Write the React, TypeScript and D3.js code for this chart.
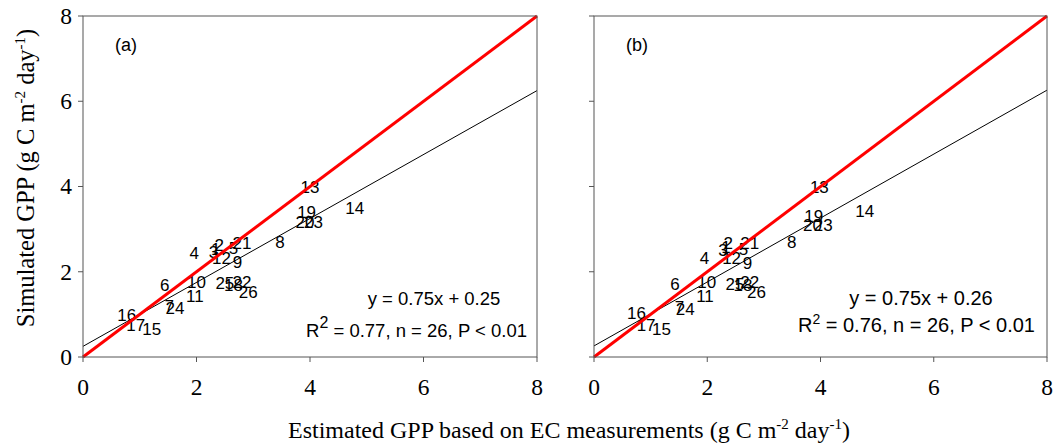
import React from "react";
import * as d3 from "d3";

const labels = ["1","2","3","4","5","6","7","8","9","10","11","12","13","14","15","16","17","18","19","20","21","22","23","24","25","26"];
const aX = [2.34,2.40,2.30,1.96,2.65,1.44,1.52,3.47,2.72,2.00,1.97,2.44,4.00,4.79,1.21,0.77,0.93,2.65,3.94,3.91,2.80,2.80,4.06,1.62,2.50,2.91];
const aY = [2.53,2.63,2.47,2.45,2.55,1.69,1.20,2.71,2.24,1.77,1.43,2.32,4.00,3.50,0.67,0.99,0.75,1.70,3.40,3.16,2.67,1.76,3.16,1.16,1.74,1.53];
const bX = [2.33,2.37,2.28,1.95,2.64,1.43,1.51,3.49,2.71,1.99,1.96,2.43,3.98,4.78,1.19,0.75,0.92,2.63,3.88,3.86,2.75,2.75,4.05,1.61,2.49,2.87];
const bY = [2.58,2.67,2.51,2.33,2.54,1.71,1.17,2.71,2.20,1.77,1.43,2.33,4.00,3.43,0.67,1.03,0.75,1.69,3.32,3.11,2.68,1.77,3.11,1.14,1.71,1.53];
const slopes = [0.75, 0.75];
const intercepts = [0.25, 0.26];
const r2 = ["0.77", "0.76"];
const panelNames = ["(a)", "(b)"];
const ticks = [0, 2, 4, 6, 8];

const AX = "#555";

function Panel({ left, right, xs, ys, idx }: any) {
  const x = d3.scaleLinear().domain([0, 8]).range([left, right]);
  const y = d3.scaleLinear().domain([0, 8]).range([357, 16]);
  const line = d3.line<number>().x((d) => x(d)).y((d) => y(d));
  const reg = d3.line<number>().x((d) => x(d)).y((d) => y(slopes[idx] * d + intercepts[idx]));
  const sans = "Arial, 'Liberation Sans', sans-serif";
  const serif = "'Times New Roman', 'Liberation Serif', serif";
  const eqSize = idx === 0 ? 18.5 : 20;
  return (
    <g>
      {labels.map((l, i) => (
        <text key={l} x={x(xs[i])} y={y(ys[i])} dy="0.36em" textAnchor="middle" fontFamily={sans} fontSize={17} fill="#000">{l}</text>
      ))}
      <path d={reg([0, 8]) as string} stroke="#000" strokeWidth={1} fill="none" />
      <path d={line([0, 8]) as string} stroke="#ff0000" strokeWidth={3} fill="none" />
      <rect x={x(0)} y={y(8)} width={x(8) - x(0)} height={y(0) - y(8)} fill="none" stroke={AX} strokeWidth={1} />
      {ticks.map((t) => (
        <g key={"x" + t}>
          <line x1={x(t)} x2={x(t)} y1={y(0)} y2={y(0) + 5} stroke={AX} />
          <text x={x(t)} y={395} textAnchor="middle" fontFamily={serif} fontSize={23.5}>{t}</text>
          <line x1={x(0) - 5} x2={x(0)} y1={y(t)} y2={y(t)} stroke={AX} />
          {idx === 0 && (
            <text x={72} y={y(t)} dy="0.34em" textAnchor="end" fontFamily={serif} fontSize={23.5}>{t}</text>
          )}
        </g>
      ))}
      <text x={x(0) + 32} y={51} fontFamily={sans} fontSize={18}>{panelNames[idx]}</text>
      <text x={x(8) - (idx === 0 ? 103 : 126)} y={305} textAnchor="middle" fontFamily={sans} fontSize={eqSize}>
        {`y = ${slopes[idx].toFixed(2)}x + ${intercepts[idx].toFixed(2)}`}
      </text>
      <text x={x(8) - (idx === 0 ? 10 : 12)} y={idx === 0 ? 337 : 332} textAnchor="end" fontFamily={sans} fontSize={eqSize}>
        R<tspan dy={idx === 0 ? -9 : -8} fontSize={idx === 0 ? 16 : 14}>2</tspan>
        <tspan dy={idx === 0 ? 9 : 8}>{` = ${r2[idx]}, n = 26, P < 0.01`}</tspan>
      </text>
    </g>
  );
}

export default function App() {
  const serif = "'Times New Roman', 'Liberation Serif', serif";
  return (
    <svg width={1056} height={447} style={{ position: "absolute", left: 0, top: 0, background: "#fff" }}>
      <Panel left={83} right={537} xs={aX} ys={aY} idx={0} />
      <Panel left={594} right={1047} xs={bX} ys={bY} idx={1} />
      <text transform="translate(34,178) rotate(-90)" textAnchor="middle" fontFamily={serif} fontSize={24.5}>
        Simulated GPP (g C m<tspan dy={-9} fontSize={15}>-2</tspan>
        <tspan dy={9}> day</tspan><tspan dy={-9} fontSize={15}>-1</tspan><tspan dy={9}>)</tspan>
      </text>
      <text x={569} y={438} textAnchor="middle" fontFamily={serif} fontSize={24}>
        Estimated GPP based on EC measurements (g C m<tspan dy={-9} fontSize={15}>-2</tspan>
        <tspan dy={9}> day</tspan><tspan dy={-9} fontSize={15}>-1</tspan><tspan dy={9}>)</tspan>
      </text>
    </svg>
  );
}
